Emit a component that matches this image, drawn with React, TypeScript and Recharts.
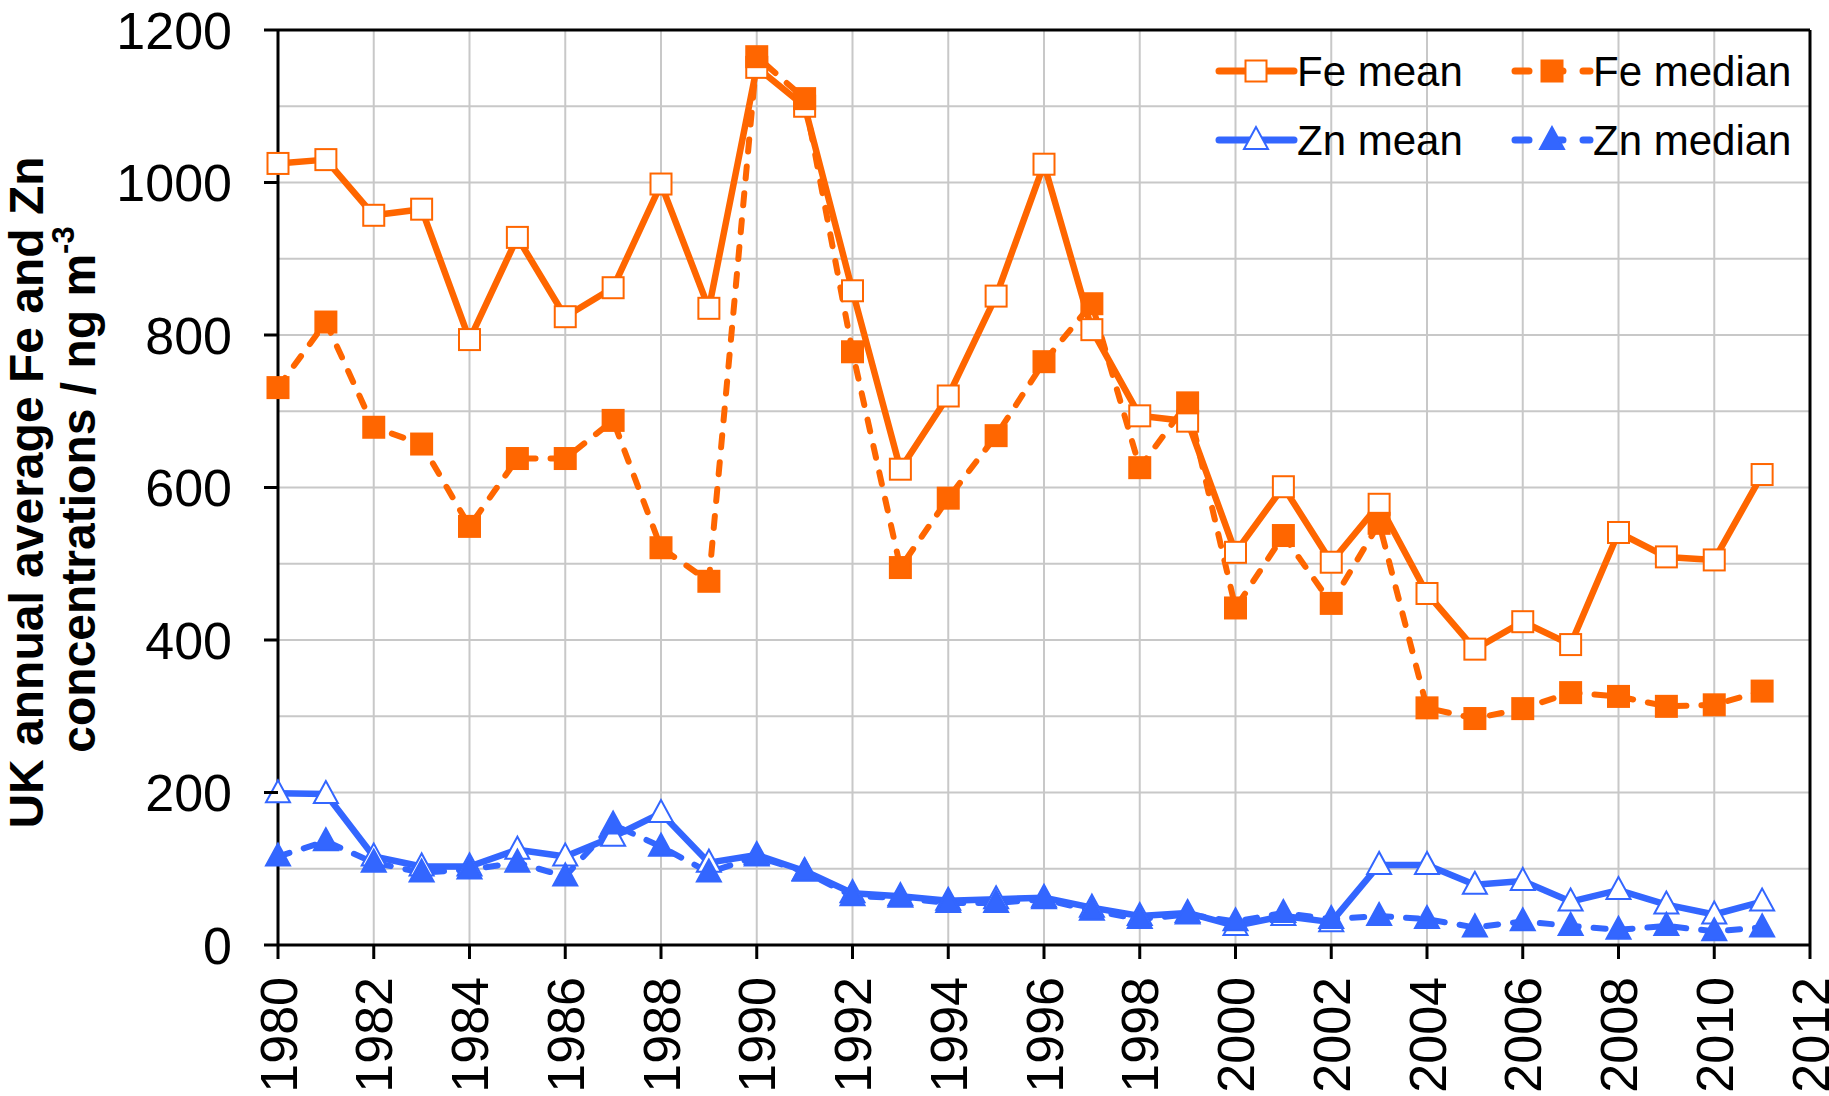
import React from 'react';
import { LineChart, Line, XAxis, YAxis, CartesianGrid, Legend, ReferenceLine } from 'recharts';

// annual averages, ng m-3
const years = [1980, 1981, 1982, 1983, 1984, 1985, 1986, 1987, 1988, 1989, 1990, 1991, 1992, 1993, 1994, 1995,
  1996, 1997, 1998, 1999, 2000, 2001, 2002, 2003, 2004, 2005, 2006, 2007, 2008, 2009, 2010, 2011];
const feMean = [1025, 1030, 957, 965, 794, 928, 824, 862, 998, 835, 1151, 1100, 858, 624, 720, 851,
  1024, 807, 694, 687, 515, 601, 502, 578, 461, 388, 424, 394, 541, 509, 505, 617];
const feMedian = [731, 817, 679, 657, 549, 638, 638, 688, 521, 477, 1165, 1110, 778, 495, 586, 668,
  765, 841, 626, 711, 442, 537, 448, 553, 311, 297, 310, 331, 326, 313, 315, 333];
const znMean = [199, 198, 116, 103, 103, 125, 116, 142, 173, 108, 118, 97, 68, 64, 58, 60,
  62, 49, 38, 42, 25, 38, 30, 105, 105, 79, 84, 57, 72, 53, 40, 57];
const znMedian = [116, 136, 108, 95, 99, 108, 90, 158, 129, 95, 116, 96, 64, 62, 55, 55,
  60, 45, 34, 40, 31, 42, 34, 38, 34, 23, 31, 25, 20, 25, 18, 23];

const xTicks = [1980, 1982, 1984, 1986, 1988, 1990, 1992, 1994, 1996, 1998, 2000, 2002, 2004, 2006, 2008, 2010, 2012];
const yTicks = [0, 100, 200, 300, 400, 500, 600, 700, 800, 900, 1000, 1100, 1200];

const ORANGE = '#FF6600';
const BLUE = '#3366FF';
const FONT = '"Liberation Sans", Arial, sans-serif';

const SERIES = [
  { key: 'feMean', name: 'Fe mean', color: ORANGE, dash: undefined, width: 6.5, shape: 'square', filled: false },
  { key: 'feMedian', name: 'Fe median', color: ORANGE, dash: '12 15', width: 6, shape: 'square', filled: true },
  { key: 'znMean', name: 'Zn mean', color: BLUE, dash: undefined, width: 6.5, shape: 'triangle', filled: false },
  { key: 'znMedian', name: 'Zn median', color: BLUE, dash: '12 15', width: 6, shape: 'triangle', filled: true },
];

const data = years.map((year, i) => ({
  year,
  feMean: feMean[i],
  feMedian: feMedian[i],
  znMean: znMean[i],
  znMedian: znMedian[i],
}));

const Marker = ({ shape, filled, color, cx, cy }: any) => {
  if (cx == null || cy == null) return null;
  const fill = filled ? color : '#fff';
  if (shape === 'square') {
    return <rect x={cx - 10.5} y={cy - 10.5} width={21} height={21} fill={fill} stroke={color} strokeWidth={2} />;
  }
  return (
    <polygon
      points={`${cx},${cy - 13} ${cx - 12},${cy + 9} ${cx + 12},${cy + 9}`}
      fill={fill}
      stroke={color}
      strokeWidth={2}
    />
  );
};

const YTick = ({ x, y, payload }: any) => {
  if (payload.value % 200 !== 0) return <g />;
  return (
    <g>
      <line x1={x - 14} x2={x} y1={y} y2={y} stroke="#000" strokeWidth={3} />
      <text x={x - 46} y={y} dy="0.36em" textAnchor="end" fontSize={52} fontFamily={FONT} fill="#000">
        {payload.value}
      </text>
    </g>
  );
};

const XTick = ({ x, y, payload }: any) => (
  <g>
    <line x1={x} x2={x} y1={y} y2={y + 14} stroke="#000" strokeWidth={3} />
    <text
      x={x}
      y={y + 32}
      dy="0.36em"
      transform={`rotate(-90 ${x} ${y + 32})`}
      textAnchor="end"
      fontSize={52}
      fontFamily={FONT}
      fill="#000"
    >
      {payload.value}
    </text>
  </g>
);

const YTitle = ({ viewBox }: any) => {
  const mid = viewBox ? viewBox.y + viewBox.height / 2 : 487;
  const y1 = mid + 5;
  const y2 = mid + 2;
  return (
    <g fontFamily={FONT} fontWeight="bold" fontSize={48} fill="#000">
      <text x={43} y={y1} textAnchor="middle" transform={`rotate(-90 43 ${y1})`}>
        UK annual average Fe and Zn
      </text>
      <text x={95} y={y2} textAnchor="middle" transform={`rotate(-90 95 ${y2})`}>
        concentrations / ng m
        <tspan fontSize={31} dy={-21}>-3</tspan>
      </text>
    </g>
  );
};

const LegendBox = () => {
  const cols = [14, 310];
  const rows = [36, 105];
  return (
    <svg width={620} height={140} style={{ overflow: 'visible' }}>
      {SERIES.map((s, i) => {
        const x0 = cols[i % 2];
        const y = rows[Math.floor(i / 2)];
        return (
          <g key={s.key}>
            <line
              x1={x0}
              x2={x0 + 75}
              y1={y}
              y2={y}
              stroke={s.color}
              strokeWidth={7}
              strokeDasharray={s.dash ? '14 20' : undefined}
              strokeLinecap="round"
            />
            <Marker shape={s.shape} filled={s.filled} color={s.color} cx={x0 + 37} cy={y} />
            <text x={x0 + 78} y={y} dy="0.36em" fontSize={42} fontFamily={FONT} fill="#000">
              {s.name}
            </text>
          </g>
        );
      })}
    </svg>
  );
};

export default function App() {
  return (
    <div style={{ position: 'absolute', left: 0, top: 0, background: '#fff' }}>
      <LineChart width={1829} height={1096} data={data} margin={{ top: 30, right: 19, bottom: 0, left: 0 }}>
        <CartesianGrid stroke="#C8C8C8" strokeWidth={2} />
        <XAxis
          dataKey="year"
          type="number"
          domain={[1980, 2012]}
          ticks={xTicks}
          interval={0}
          height={151}
          tickSize={0}
          tickMargin={0}
          tick={<XTick />}
          axisLine={{ stroke: '#000', strokeWidth: 3 }}
        />
        <YAxis
          type="number"
          domain={[0, 1200]}
          ticks={yTicks}
          interval={0}
          width={278}
          tickSize={0}
          tickMargin={0}
          tick={<YTick />}
          axisLine={{ stroke: '#000', strokeWidth: 3 }}
          label={<YTitle />}
        />
        <ReferenceLine y={1200} stroke="#000" strokeWidth={3} />
        <ReferenceLine x={2012} stroke="#000" strokeWidth={3} />
        <Legend
          layout="vertical"
          align="center"
          verticalAlign="middle"
          wrapperStyle={{ left: 1205, top: 35, width: 620, height: 140 }}
          content={() => <LegendBox />}
        />
        {SERIES.map((s) => (
          <Line
            key={s.key}
            dataKey={s.key}
            name={s.name}
            stroke={s.color}
            strokeWidth={s.width}
            strokeDasharray={s.dash}
            strokeLinecap="round"
            strokeLinejoin="round"
            isAnimationActive={false}
            dot={(p: any) => (
              <g key={`${s.key}-${p.index}`}>
                <Marker shape={s.shape} filled={s.filled} color={s.color} cx={p.cx} cy={p.cy} />
              </g>
            )}
            activeDot={false}
          />
        ))}
      </LineChart>
    </div>
  );
}
